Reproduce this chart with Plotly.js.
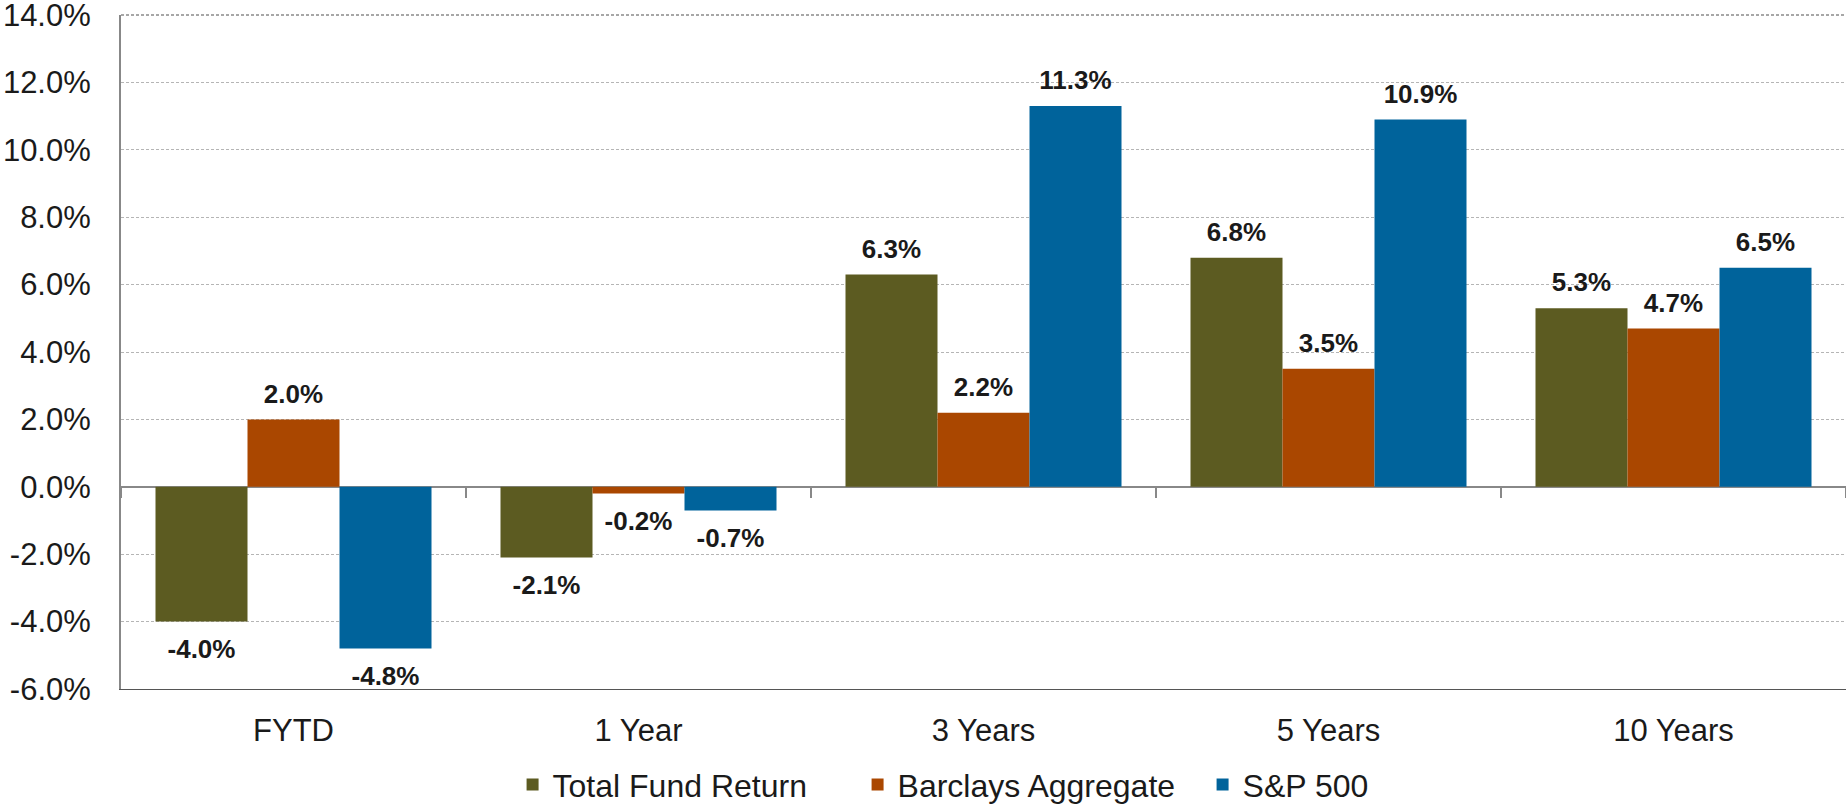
<!DOCTYPE html>
<html>
<head>
<meta charset="utf-8">
<script src="https://cdn.plot.ly/plotly-3.0.1.min.js"></script>
<style>
  html, body { margin: 0; padding: 0; background: #fff; }
  #chart { width: 1846px; height: 808px; }
</style>
</head>
<body>
<div id="chart"></div>
<script>
// ---- data ----
const categories = ['FYTD', '1 Year', '3 Years', '5 Years', '10 Years'];
const seriesNames = ['Total Fund Return', 'Barclays Aggregate', 'S&P 500'];
const totalFundReturn = [-4.0, -2.1, 6.3, 6.8, 5.3];
const barclaysAggregate = [2.0, -0.2, 2.2, 3.5, 4.7];
const sp500 = [-4.8, -0.7, 11.3, 10.9, 6.5];
const yTickValues = [-6, -4, -2, 0, 2, 4, 6, 8, 10, 12, 14];
const yTickLabels = ['-6.0%', '-4.0%', '-2.0%', '0.0%', '2.0%', '4.0%', '6.0%', '8.0%', '10.0%', '12.0%', '14.0%'];
const yRange = [-6, 14];

// ---- style ----
const colors = ['#5C5B21', '#AA4700', '#00639B'];
const FONT = 'Liberation Sans, Arial, sans-serif';
const seriesValues = [totalFundReturn, barclaysAggregate, sp500];

const traces = [];
seriesValues.forEach((vals, i) => {
  traces.push({
    type: 'bar',
    name: seriesNames[i],
    x: categories,
    y: vals,
    offsetgroup: String(i),
    marker: { color: colors[i], line: { width: 0 } },
    hoverinfo: 'skip'
  });
});
// value labels, aligned with the bars via grouped scatter
seriesValues.forEach((vals, i) => {
  traces.push({
    type: 'scatter',
    mode: 'markers+text',
    xaxis: 'x2',
    yaxis: 'y',
    x: categories,
    y: vals,
    offsetgroup: String(i),
    text: vals.map(v => v.toFixed(1) + '%'),
    textposition: vals.map(v => v >= 0 ? 'top center' : 'bottom center'),
    textfont: { family: FONT, size: 26, color: '#1a1a1a', weight: 'bold' },
    marker: { size: vals.map(v => v >= 0 ? 15 : 26), opacity: 0, color: colors[i] },
    showlegend: false,
    hoverinfo: 'skip',
    cliponaxis: false
  });
});

const zeroPos = (0 - yRange[0]) / (yRange[1] - yRange[0]);

const layout = {
  width: 1846,
  height: 808,
  margin: { l: 121, r: 0, t: 15, b: 119, autoexpand: false },
  paper_bgcolor: '#ffffff',
  plot_bgcolor: '#ffffff',
  barmode: 'group',
  bargap: 0.2,
  bargroupgap: 0,
  scattermode: 'group',
  scattergap: 0.2,
  font: { family: FONT, size: 31, color: '#1a1a1a' },
  showlegend: true,
  legend: {
    orientation: 'h',
    x: 0.527, xanchor: 'center',
    y: -0.142, yanchor: 'middle',
    entrywidth: 300, entrywidthmode: 'pixels',
    font: { family: FONT, size: 32, color: '#1a1a1a' },
    itemclick: false, itemdoubleclick: false
  },
  shapes: [{
    type: 'line', xref: 'paper', yref: 'paper',
    x0: 0, x1: 1, y0: 1, y1: 1,
    line: { color: '#8a8a8a', width: 1.5, dash: '3px,2px' }
  }],
  xaxis: {
    type: 'category',
    showline: true, linecolor: '#555555', linewidth: 1,
    ticks: '',
    showgrid: false, zeroline: false,
    tickfont: { family: FONT, size: 31, color: '#1a1a1a' },
    ticklabelstandoff: 14
  },
  xaxis2: {
    type: 'category',
    overlaying: 'x',
    matches: 'x',
    anchor: 'free',
    position: zeroPos,
    showticklabels: false,
    ticks: 'outside', tickson: 'boundaries',
    ticklen: 10, tickwidth: 2, tickcolor: '#888888',
    showline: false, showgrid: false, zeroline: false
  },
  yaxis: {
    range: yRange,
    tickmode: 'array',
    tickvals: yTickValues,
    ticktext: yTickLabels,
    ticks: '',
    ticklabeloverflow: 'allow',
    showline: true, linecolor: '#888888', linewidth: 2,
    showgrid: true, gridcolor: '#b5b5b5', gridwidth: 1, griddash: '3px,2px',
    zeroline: true, zerolinecolor: '#888888', zerolinewidth: 2,
    tickfont: { family: FONT, size: 31, color: '#1a1a1a' },
    ticklabelstandoff: 22
  }
};

Plotly.newPlot('chart', traces, layout, { displayModeBar: false, staticPlot: true });
</script>
</body>
</html>
